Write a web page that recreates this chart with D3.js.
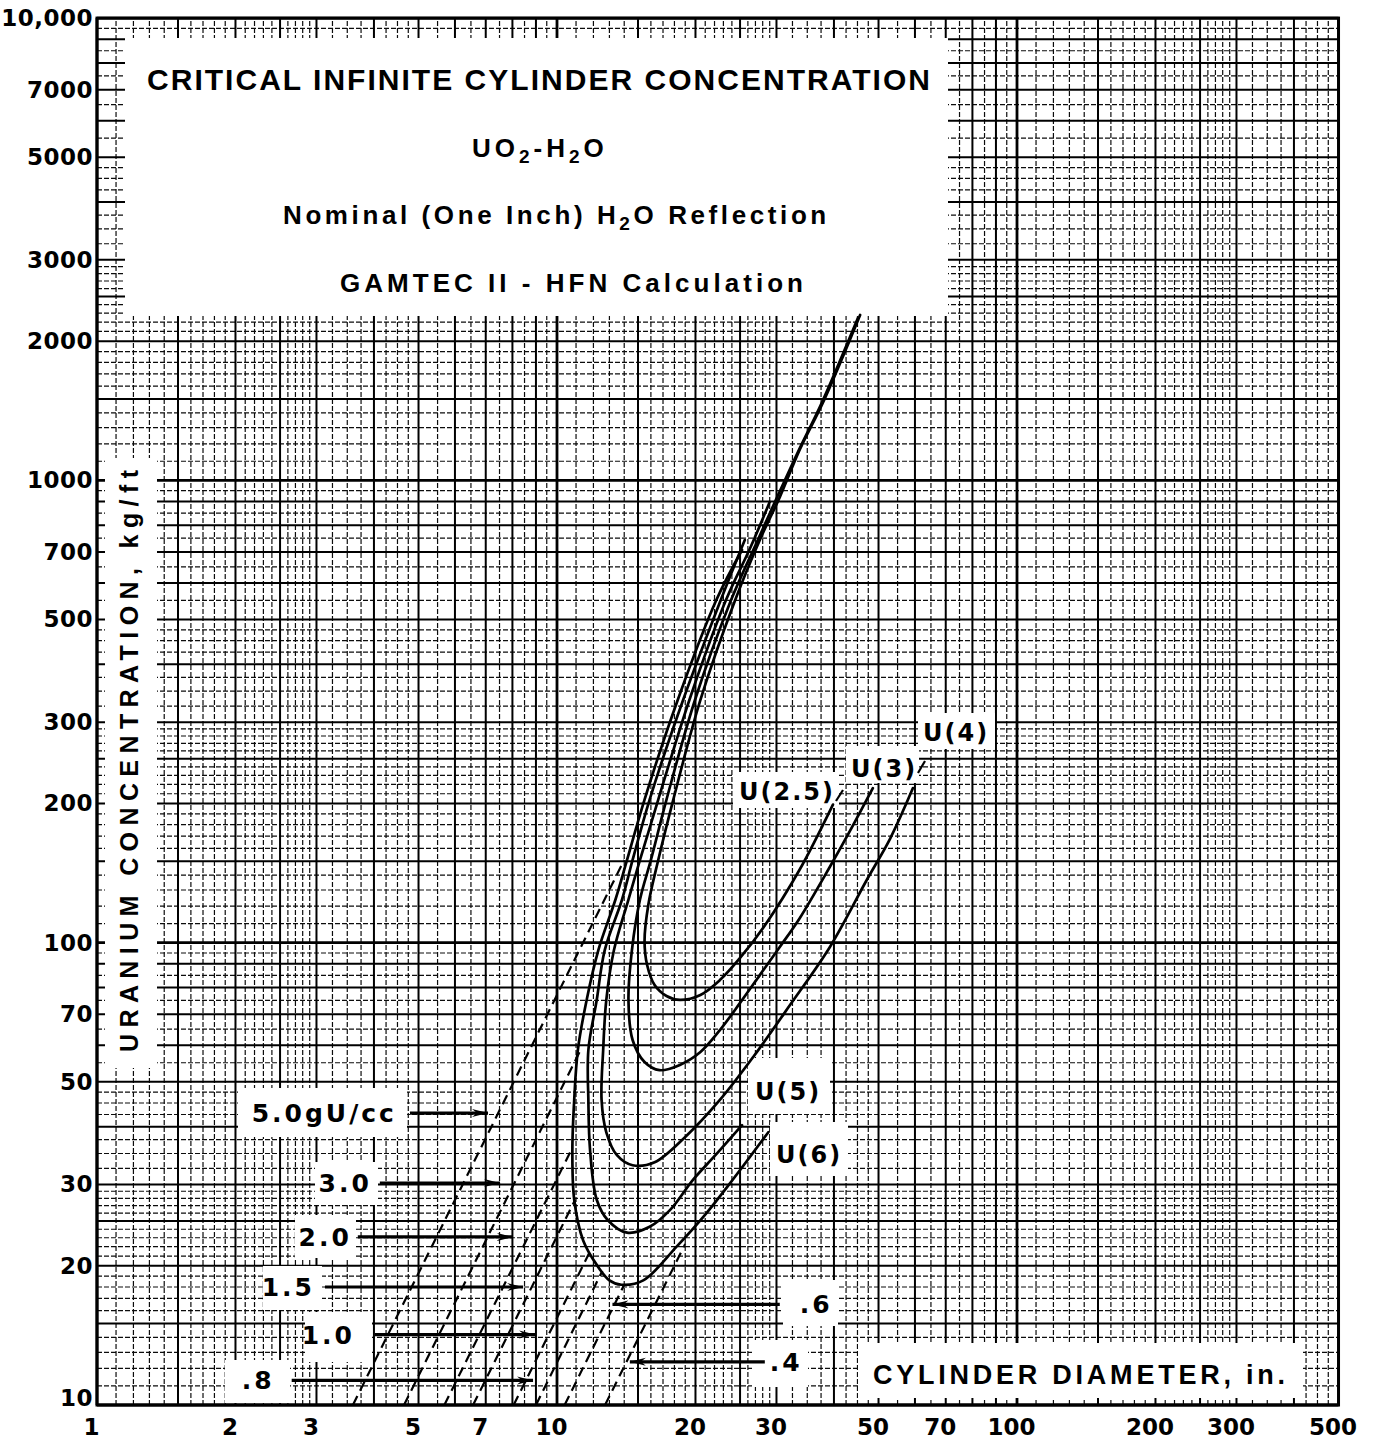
<!DOCTYPE html>
<html>
<head>
<meta charset="utf-8">
<script src="https://cdn.jsdelivr.net/npm/d3@7"></script>
<style>
  html, body { margin: 0; padding: 0; background: #fff; }
  svg { display: block; }
</style>
</head>
<body>
<svg id="chart" width="1382" height="1449"></svg>
<script>
// ---------- axis ticks ----------
const xTicks = [1, 2, 3, 5, 7, 10, 20, 30, 50, 70, 100, 200, 300, 500];
const yTicks = [10, 20, 30, 50, 70, 100, 200, 300, 500, 700, 1000, 2000, 3000, 5000, 7000, 10000];
const yTickLabels = ["10", "20", "30", "50", "70", "100", "200", "300", "500", "700", "1000", "2000", "3000", "5000", "7000", "10,000"];

// ---------- critical curves: [diameter in., concentration kg/ft] ----------
const enrichmentNames = ["U(2.5)", "U(3)", "U(4)", "U(5)", "U(6)"];
const curveU25 = [[45.6,2280],[38.05,1490],[33.7,1165],[30.5,920],[27.6,743],[24.4,551],[20.5,335],[17.9,204],[16.6,151],[15.8,121],[15.5,101],[15.7,89.5],[16.3,81.0],[17.3,76.7],[18.5,75.2],[20.5,77.1],[22.6,83.0],[25.0,92.7],[28.3,109],[33.7,144],[39.8,199]];
const curveU3  = [[45.1,2245],[37.7,1478],[33.4,1152],[30.1,920],[27.2,736],[23.9,551],[19.95,335],[17.3,204],[16.0,151],[15.15,124],[14.55,96.4],[14.3,75.2],[14.6,61.6],[15.5,55.2],[16.7,53.0],[18.5,54.4],[20.5,58.0],[22.6,64.7],[25.0,74.1],[27.6,85.1],[30.5,97.9],[33.7,113],[39.2,146],[43.4,175],[48.6,216]];
const curveU4  = [[29.0,898],[26.3,714],[23.3,551],[19.4,335],[16.6,204],[15.15,151],[14.3,124],[13.3,96.4],[12.8,75.2],[12.6,58.6],[12.5,45.7],[12.8,38.9],[13.5,34.7],[14.6,33.0],[16.3,33.5],[19.0,38.0],[22.6,45.7],[26.7,56.6],[32.1,73.3],[39.2,97.9],[47.2,137],[53.0,168],[59.4,216]];
const curveU5  = [[25.6,743],[22.7,551],[18.8,335],[15.9,204],[14.6,151],[13.85,124],[12.7,96.4],[12.2,75.2],[11.7,58.6],[11.7,45.7],[11.8,35.6],[12.2,27.8],[12.9,25.1],[14.2,23.6],[15.9,24.3],[17.6,26.4],[19.75,30.7],[22.1,34.7],[25.25,40.3]];
const curveU6  = [[25.25,707],[22.2,551],[18.3,335],[15.5,204],[14.2,151],[13.4,124],[12.3,96.4],[11.6,75.2],[11.1,58.6],[10.9,45.7],[10.8,35.6],[10.9,27.8],[11.4,22.7],[12.2,20.1],[13.0,18.6],[13.8,18.2],[15.4,18.6],[18.2,22.0],[21.0,25.8],[24.1,30.7],[28.8,38.9]];

// ---------- constant uranium density lines (gU/cc) ----------
const densityLabels = ["5.0gU/cc", "3.0", "2.0", "1.5", "1.0", ".8", ".6", ".4"];
const densityLines = [
  [[3.6, 10], [14.0, 151]],
  [[4.65, 10], [11.25, 58.6]],
  [[5.69, 10], [10.74, 35.6]],
  [[6.57, 10], [10.95, 27.8]],
  [[8.05, 10], [11.8, 21.5]],
  [[9.0, 10], [12.55, 19.5]],
  [[10.39, 10], [14.0, 18.2]],
  [[12.72, 10], [19.0, 22.3]]
];
// pointer arrows: concentration level, tail diameter, head diameter
const arrowConc = [42.8, 30.2, 23.1, 18.0, 14.2, 11.3, 16.5, 12.4];
const arrowFrom = [4.79, 4.12, 3.69, 3.13, 4.02, 2.65, 30.5, 28.3];
const arrowTo   = [7.08, 7.52, 8.02, 8.44, 8.96, 8.87, 13.2, 14.4];

// ---------- layout ----------
const LEFT = 97, BOTTOM = 1405, PX_X = 460, PX_Y = 462.3;
const x = d3.scaleLog().domain([1, 500]).range([LEFT, LEFT + PX_X * Math.log10(500)]);
const y = d3.scaleLog().domain([10, 10000]).range([BOTTOM, BOTTOM - PX_Y * 3]);
const [X0, X1] = x.range();
const [Y0, Y1] = y.range();

const svg = d3.select("#chart");
svg.append("rect").attr("width", 1382).attr("height", 1449).attr("fill", "#fff");

// log-paper rulings per decade: [mantissa, weight]
const mantissas = [];
for (let i = 10; i < 20; i++) mantissas.push([i / 10, i === 10 ? "decade" : (i % 5 === 0 ? "major" : "minor")]);
for (let i = 20; i < 30; i++) mantissas.push([i / 10, i % 5 === 0 ? "major" : "minor"]);
for (let i = 300; i < 500; i += 25) mantissas.push([i / 100, i % 100 === 0 ? "major" : "minor"]);
for (let i = 50; i < 100; i += 5) mantissas.push([i / 10, i % 10 === 0 ? "major" : "minor"]);

function rulings(lo, hi) {
  const out = [];
  for (let e = Math.floor(Math.log10(lo)); Math.pow(10, e) <= hi * 1.0001; e++) {
    const d = Math.pow(10, e);
    for (const [m, k] of mantissas) {
      const v = m * d;
      if (v >= lo * 0.9999 && v <= hi * 1.0001) out.push({ v, k });
    }
  }
  return out;
}
const xr = rulings(1, 500), yr = rulings(10, 10000);
const style = {
  minor:  { w: 1.2, dash: "5 2", op: 0.95 },
  major:  { w: 2.0, dash: null, op: 1 },
  decade: { w: 2.8, dash: null, op: 1 }
};
const grid = svg.append("g").attr("class", "paper");
["minor", "major", "decade"].forEach(k => {
  const g = grid.append("g").attr("stroke", "#000").attr("stroke-width", style[k].w)
    .attr("opacity", style[k].op).attr("stroke-dasharray", style[k].dash);
  g.selectAll(".v").data(xr.filter(d => d.k === k)).join("line")
    .attr("x1", d => x(d.v)).attr("x2", d => x(d.v)).attr("y1", Y0).attr("y2", Y1);
  g.selectAll(".h").data(yr.filter(d => d.k === k)).join("line")
    .attr("y1", d => y(d.v)).attr("y2", d => y(d.v)).attr("x1", X0).attr("x2", X1);
});

// cleared areas of the paper that carry lettering
const clearings = [
  [125, 38, 823, 278],   // title block
  [105, 458, 52, 610],   // ordinate name
  [858, 1343, 445, 55],  // abscissa name
  [238, 1088, 169, 49], [315, 1162, 63, 43], [295, 1215, 61, 43], [263, 1266, 59, 44],
  [305, 1312, 67, 50], [225, 1360, 65, 43], [783, 1280, 55, 46], [752, 1340, 56, 47],
  [733, 772, 106, 36], [846, 746, 73, 37], [918, 713, 77, 36], [748, 1058, 82, 56], [770, 1122, 78, 54]
];
svg.append("g").selectAll("rect").data(clearings).join("rect")
  .attr("x", d => d[0]).attr("y", d => d[1]).attr("width", d => d[2]).attr("height", d => d[3])
  .attr("fill", "#fff");

// frame
svg.append("rect").attr("x", X0).attr("y", Y1).attr("width", X1 - X0).attr("height", Y0 - Y1)
  .attr("fill", "none").attr("stroke", "#000").attr("stroke-width", 3);

// constant-density dashed lines
const straight = d3.line().x(d => x(d[0])).y(d => y(d[1]));
svg.append("g").selectAll("path").data(densityLines).join("path")
  .attr("d", straight).attr("fill", "none").attr("stroke", "#000")
  .attr("stroke-width", 2.2).attr("stroke-dasharray", "10 6");

// critical concentration curves
const smooth = d3.line().x(d => x(d[0])).y(d => y(d[1])).curve(d3.curveCatmullRom.alpha(0.5));
svg.append("g").selectAll("path").data([curveU25, curveU3, curveU4, curveU5, curveU6]).join("path")
  .attr("d", smooth).attr("fill", "none").attr("stroke", "#000")
  .attr("stroke-width", 2.7).attr("stroke-linejoin", "round").attr("stroke-linecap", "round");

// arrowheads
svg.append("defs").append("marker")
  .attr("id", "head").attr("viewBox", "0 0 16 10").attr("refX", 16).attr("refY", 5)
  .attr("markerWidth", 16).attr("markerHeight", 10).attr("markerUnits", "userSpaceOnUse")
  .attr("orient", "auto")
  .append("path").attr("d", "M0,1 L16,5 L0,9 L5,5 Z").attr("fill", "#000");

const arrows = densityLabels.map((t, i) => ({ t, c: arrowConc[i], a: arrowFrom[i], b: arrowTo[i] }));
svg.append("g").selectAll("line").data(arrows).join("line")
  .attr("x1", d => x(d.a)).attr("x2", d => x(d.b))
  .attr("y1", d => y(d.c)).attr("y2", d => y(d.c))
  .attr("stroke", "#000").attr("stroke-width", 3.2).attr("marker-end", "url(#head)");

const labelGap = [13, 8, 6, 10, 20, 17, 20, 5];
svg.append("g").selectAll("text").data(arrows).join("text")
  .attr("x", (d, i) => d.a < d.b ? x(d.a) - labelGap[i] : x(d.a) + labelGap[i])
  .attr("y", d => y(d.c) + 9)
  .attr("text-anchor", d => d.a < d.b ? "end" : "start")
  .attr("font-family", "'DejaVu Sans', sans-serif").attr("font-weight", "bold")
  .attr("font-size", 25).attr("letter-spacing", 3)
  .text(d => d.t);

// enrichment labels and their leaders
const enrichPos = [[739, 800], [851, 777], [923, 741], [755, 1100], [776, 1163]];
svg.append("g").selectAll("text").data(enrichmentNames).join("text")
  .attr("x", (d, i) => enrichPos[i][0]).attr("y", (d, i) => enrichPos[i][1])
  .attr("font-family", "'DejaVu Sans', sans-serif").attr("font-weight", "bold")
  .attr("font-size", 24).attr("letter-spacing", 2)
  .text(d => d);
const leaders = [[[836, 801], [843, 790]], [[918, 773], [925, 761]]];
svg.append("g").selectAll("path").data(leaders).join("path")
  .attr("d", d => `M${d[0][0]},${d[0][1]} L${d[1][0]},${d[1][1]}`)
  .attr("stroke", "#000").attr("stroke-width", 2.2).attr("fill", "none");

// axes
const tickFont = g => g.attr("font-family", "'DejaVu Sans', sans-serif")
  .attr("font-size", 23).attr("font-weight", "bold");
const yAxis = svg.append("g").attr("transform", `translate(${X0},0)`)
  .call(d3.axisLeft(y).tickValues(yTicks).tickFormat((d, i) => yTickLabels[i]).tickSize(0).tickPadding(4))
  .call(tickFont);
yAxis.select(".domain").remove();
yAxis.selectAll("text").attr("fill", "#000").attr("letter-spacing", 0.5);
// the lowest ordinate figure sits just above the corner
yAxis.selectAll(".tick").filter(d => d === 10).select("text").attr("y", -7);

const xAxis = svg.append("g").attr("transform", `translate(0,${Y0})`)
  .call(d3.axisBottom(x).tickValues(xTicks).tickFormat(d3.format("d")).tickSize(0).tickPadding(14))
  .call(tickFont);
xAxis.select(".domain").remove();
xAxis.selectAll("text").attr("fill", "#000").attr("dx", -6);

// titles
const bold = sel => sel.attr("font-family", "'Liberation Sans', Arial, sans-serif").attr("font-weight", "bold").attr("fill", "#000");
svg.append("text").call(bold).attr("x", 147).attr("y", 90).attr("font-size", 30)
  .attr("textLength", 783).attr("lengthAdjust", "spacing")
  .text("CRITICAL INFINITE CYLINDER CONCENTRATION");

const t2 = svg.append("text").call(bold).attr("x", 472).attr("y", 157).attr("font-size", 26)
  .attr("letter-spacing", 4);
t2.append("tspan").text("UO");
t2.append("tspan").attr("dy", 6).attr("font-size", 19).text("2");
t2.append("tspan").attr("dy", -6).text("-H");
t2.append("tspan").attr("dy", 6).attr("font-size", 19).text("2");
t2.append("tspan").attr("dy", -6).text("O");

const t3 = svg.append("text").call(bold).attr("x", 283).attr("y", 224).attr("font-size", 26)
  .attr("letter-spacing", 3.6);
t3.append("tspan").text("Nominal (One Inch) H");
t3.append("tspan").attr("dy", 6).attr("font-size", 19).text("2");
t3.append("tspan").attr("dy", -6).text("O Reflection");

svg.append("text").call(bold).attr("x", 340).attr("y", 292).attr("font-size", 26)
  .attr("textLength", 463).attr("lengthAdjust", "spacing")
  .text("GAMTEC II - HFN Calculation");

svg.append("text").call(bold).attr("transform", "translate(138,1052) rotate(-90)")
  .attr("font-size", 25).attr("textLength", 582).attr("lengthAdjust", "spacing")
  .text("URANIUM CONCENTRATION, kg/ft");

svg.append("text").call(bold).attr("x", 873).attr("y", 1384).attr("font-size", 27)
  .attr("textLength", 412).attr("lengthAdjust", "spacing")
  .text("CYLINDER DIAMETER, in.");
</script>
</body>
</html>
